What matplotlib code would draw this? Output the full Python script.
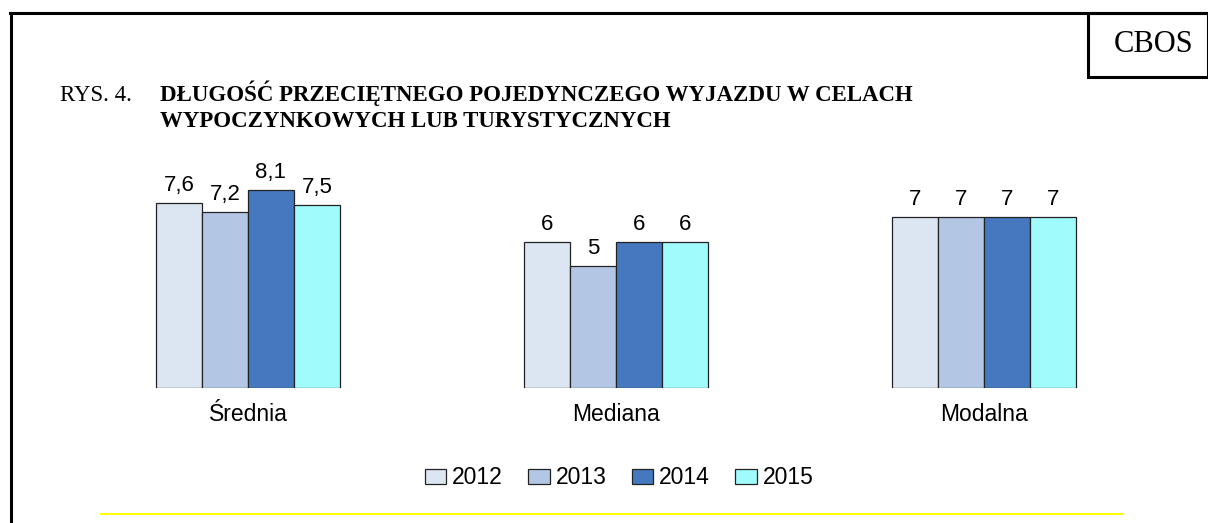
import matplotlib

matplotlib.use("Agg")
import matplotlib.pyplot as plt
from matplotlib.lines import Line2D
from matplotlib.patches import Patch, Rectangle

plt.rcParams["font.family"] = ["Liberation Sans", "DejaVu Sans"]

# ---- dane ----
categories = ["Średnia", "Mediana", "Modalna"]
years = ["2012", "2013", "2014", "2015"]
values = {
    "2012": [7.6, 6, 7],
    "2013": [7.2, 5, 7],
    "2014": [8.1, 6, 7],
    "2015": [7.5, 6, 7],
}
labels = {
    "2012": ["7,6", "6", "7"],
    "2013": ["7,2", "5", "7"],
    "2014": ["8,1", "6", "7"],
    "2015": ["7,5", "6", "7"],
}
colors = ["#DCE6F2", "#B3C7E5", "#4678C0", "#A0FCFC"]

W, H = 1208, 523
fig = plt.figure(figsize=(W / 100, H / 100), dpi=100)

# ramka strony
fig.add_artist(Line2D([10 / W, 1], [1 - 13 / H, 1 - 13 / H], color="black", lw=2.2))
fig.add_artist(Line2D([10.5 / W, 10.5 / W], [0, 1 - 13 / H], color="black", lw=2.2))
fig.add_artist(Rectangle((1088 / W, 1 - 77 / H), (W - 1088) / W, 64 / H,
                         transform=fig.transFigure, fill=False, ec="black", lw=2.2))
fig.text(1154 / W, 1 - 45 / H, "CBOS", family="Liberation Serif", fontsize=22,
         ha="center", va="center")

# tytuł
fs_title = 16.5
fig.text(60 / W, 1 - 101 / H, "RYS. 4.", family="Liberation Serif", fontsize=fs_title,
         va="baseline")
fig.text(160 / W, 1 - 101 / H, "DŁUGOŚĆ PRZECIĘTNEGO POJEDYNCZEGO WYJAZDU W CELACH",
         family="Liberation Serif", fontsize=fs_title, weight="bold", va="baseline")
fig.text(160 / W, 1 - 127 / H, "WYPOCZYNKOWYCH LUB TURYSTYCZNYCH",
         family="Liberation Serif", fontsize=fs_title, weight="bold", va="baseline")

# wykres
unit = 24.4
ax = fig.add_axes([64 / W, (H - 388) / H, 1104 / W, 9 * unit / H])
w = 0.125
for i, y in enumerate(years):
    xs = [k + (i - 1.5) * w for k in range(len(categories))]
    bars = ax.bar(xs, values[y], width=w, color=colors[i], edgecolor="#222222",
                  linewidth=0.9)
    ax.bar_label(bars, labels=labels[y], padding=5, fontsize=16)

ax.set_xlim(-0.5, 2.5)
ax.set_ylim(0, 9)
ax.set_xticks(range(len(categories)), categories, fontsize=16.5)
ax.tick_params(axis="x", length=0, pad=11)
ax.set_yticks([])
for s in ax.spines.values():
    s.set_visible(False)

handles = [Patch(facecolor=c, edgecolor="#222222", linewidth=0.9) for c in colors]
fig.legend(handles, years, loc="center", bbox_to_anchor=(619 / W, 1 - 478 / H),
           ncol=4, frameon=False, fontsize=16.5, handlelength=0.95, handleheight=0.6,
           handletextpad=0.25, columnspacing=1.1)

fig.add_artist(Line2D([101 / W, 1123 / W], [1 - 514 / H, 1 - 514 / H],
                      color="#FFFF00", lw=1.5))

fig.savefig("out.png", dpi=100)
